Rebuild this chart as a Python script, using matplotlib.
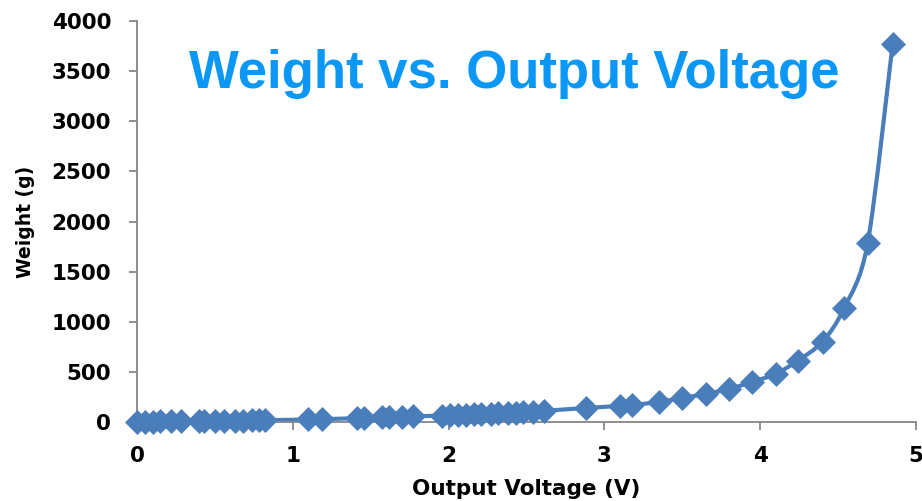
import numpy as np
import matplotlib
matplotlib.use("Agg")
import matplotlib.pyplot as plt
from matplotlib.path import Path
from matplotlib.patches import PathPatch

# Sensor output voltage (V) and corresponding weight (g)
voltage = [0.00, 0.05, 0.10, 0.15, 0.22, 0.28, 0.40, 0.43, 0.50, 0.56,
           0.63, 0.68, 0.74, 0.78, 0.82, 1.10, 1.19, 1.41, 1.46, 1.57,
           1.62, 1.70, 1.77, 1.96, 2.01, 2.06, 2.11, 2.16, 2.21, 2.27,
           2.32, 2.38, 2.43, 2.48, 2.54, 2.61, 2.88, 3.10, 3.18, 3.35,
           3.50, 3.65, 3.80, 3.95, 4.10, 4.24, 4.40, 4.54, 4.69, 4.85]
weight = [0, 2, 4, 5, 6, 7, 9, 10, 11, 12,
          13, 14, 15, 16, 17, 25, 28, 38, 40, 45,
          48, 52, 56, 64, 67, 70, 73, 76, 79, 82,
          85, 88, 91, 95, 99, 110, 140, 160, 170, 200,
          240, 280, 330, 400, 480, 610, 800, 1140, 1785, 3770]

x_ticks = [0, 1, 2, 3, 4, 5]
y_ticks = [0, 500, 1000, 1500, 2000, 2500, 3000, 3500, 4000]

LINE = "#4a7ebb"
GRAY = "#868686"
AXIS_FONT = ["DejaVu Sans"]
TITLE_FONT = ["Liberation Sans", "DejaVu Sans"]

fig = plt.figure(figsize=(9.22, 5.01), dpi=100)
ax = fig.add_axes([0.1486, 0.1577, 0.8449, 0.8003])


def smooth_path(xs, ys, tension=0.15):
    """Cubic Bezier path through the points (Catmull-Rom style smoothing)."""
    pts = np.column_stack([np.asarray(xs, float), np.asarray(ys, float)])
    n = len(pts)
    verts = [pts[0]]
    codes = [Path.MOVETO]
    for i in range(n - 1):
        p0 = pts[i - 1] if i > 0 else pts[i]
        p1 = pts[i]
        p2 = pts[i + 1]
        p3 = pts[i + 2] if i + 2 < n else pts[i + 1]
        c1 = p1 + (p2 - p0) * tension
        c2 = p2 - (p3 - p1) * tension
        verts += [c1, c2, p2]
        codes += [Path.CURVE4] * 3
    return Path(verts, codes)


ax.set_xlim(0, 5)
ax.set_ylim(0, 4000)

# smoothed connecting curve, built in display space
disp = ax.transData.transform(np.column_stack([voltage, weight]))
path = smooth_path(disp[:, 0], disp[:, 1])
ax.add_patch(PathPatch(path, facecolor="none", edgecolor=LINE, lw=3.0,
                       transform=None, zorder=2, clip_on=False))

ax.plot(voltage, weight, linestyle="none", marker="D", markersize=12,
        color=LINE, markeredgecolor=LINE, markeredgewidth=0.5,
        zorder=3, clip_on=False)

ax.set_xticks(x_ticks)
ax.set_yticks(y_ticks)
ax.set_xticklabels([str(t) for t in x_ticks])
ax.set_yticklabels([str(t) for t in y_ticks])

for side in ("top", "right"):
    ax.spines[side].set_visible(False)
for side in ("left", "bottom"):
    ax.spines[side].set_color(GRAY)
    ax.spines[side].set_linewidth(1.3)
ax.tick_params(axis="both", direction="out", length=5.5, width=1.3,
               color=GRAY, labelsize=15.5)
ax.tick_params(axis="x", pad=12)
ax.tick_params(axis="y", pad=13)
for lab in ax.get_xticklabels() + ax.get_yticklabels():
    lab.set_fontweight("bold")
    lab.set_family(AXIS_FONT)

ax.set_xlabel("Output Voltage (V)", fontsize=15.5, fontweight="bold",
              family=AXIS_FONT, labelpad=9)
ax.set_ylabel("Weight (g)", fontsize=13.5, fontweight="bold",
              family=AXIS_FONT, labelpad=12)

ax.text(0.484, 0.833, "Weight vs. Output Voltage", transform=ax.transAxes,
        ha="center", va="baseline", fontsize=38, fontweight="bold",
        color="#0a97f5", family=TITLE_FONT)

fig.savefig("out.png", dpi=100)
